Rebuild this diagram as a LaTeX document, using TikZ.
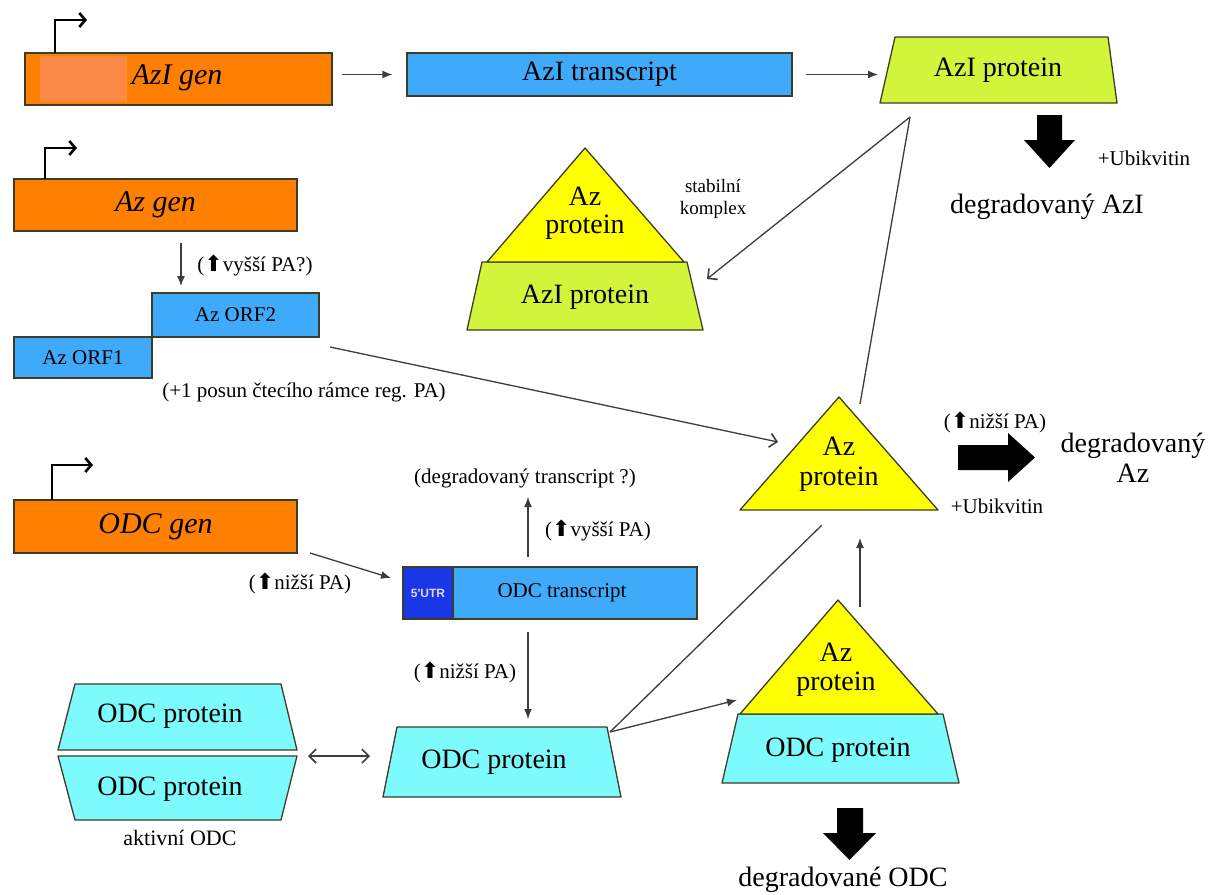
\documentclass[tikz,border=0pt]{standalone}
\usepackage{fontspec}
\setmainfont{Liberation Serif}
\newfontfamily\symf{DejaVu Sans}
\newfontfamily\sansf{Liberation Sans}
\usetikzlibrary{arrows.meta}
\definecolor{geneor}{RGB}{255,128,0}
\definecolor{patchor}{RGB}{250,138,70}
\definecolor{trblue}{RGB}{64,170,250}
\definecolor{utrblue}{RGB}{25,55,230}
\definecolor{azigreen}{RGB}{210,245,60}
\definecolor{azyellow}{RGB}{255,255,0}
\definecolor{odccyan}{RGB}{125,250,252}
\definecolor{edgec}{RGB}{60,60,40}
\definecolor{connc}{RGB}{60,60,60}
\newcommand{\upA}{{\symf\fontsize{22}{24}\selectfont ⬆}}
\begin{document}
\begin{tikzpicture}[x=1pt,y=-1pt,
  big/.style={font=\fontsize{28}{31}\selectfont, inner sep=0pt},
  small/.style={font=\fontsize{21}{24}\selectfont, inner sep=0pt},
  genebox/.style={draw=edgec, line width=1.3pt, fill=geneor, inner sep=0pt, font=\fontsize{30}{33}\selectfont\itshape},
  trbox/.style={draw=edgec, line width=1.3pt, fill=trblue, inner sep=0pt},
  shapeline/.style={draw=edgec, line width=1.3pt, line join=round},
  arr/.style={draw=connc, line width=1.3pt, -{Latex[length=10pt,width=8pt]}},
  oarr/.style={draw=connc, line width=1.3pt, -{Straight Barb[length=7pt,width=14pt,line width=1.6pt]}},
  darr/.style={draw=connc, line width=1.3pt, {Straight Barb[length=7pt,width=14pt,line width=1.6pt]}-{Straight Barb[length=7pt,width=14pt,line width=1.6pt]}},
  plainc/.style={draw=connc, line width=1.3pt},
  prom/.style={draw=black, line width=2.6pt, -{Straight Barb[length=6pt,width=14pt,line width=2.6pt]}},
  block/.style={fill=black, draw=none},
]
\useasboundingbox (0,0) rectangle (1223,894);

% ---------- AzI row ----------
\node[genebox, minimum width=307pt, minimum height=52pt] (azigen) at (178.5,79) {};
\fill[patchor] (40,56) rectangle (127,102);
\node[font=\fontsize{30}{33}\selectfont\itshape, inner sep=0pt] (azigentxt) at (177,78) {AzI gen};
\draw[prom] (55,53) -- (55,20) -- (87,20);
\node[trbox, minimum width=385pt, minimum height=43pt, big] (azitr) at (599.5,74.5) {AzI transcript};
\filldraw[shapeline, fill=azigreen] (895,37) -- (1108,37) -- (1117,103) -- (880,103) -- cycle;
\node[big] (aziprot) at (998,70) {AzI protein};
\draw[arr] ([xshift=9pt]azigen.east |- azitr.west) -- ([xshift=-14pt]azitr.west);
\draw[arr] ([xshift=13pt]azitr.east) -- (878,74.5);

\fill[block] (1037,115) -- (1062,115) -- (1062,140) -- (1075,140) -- (1049.5,168) -- (1024,140) -- (1037,140) -- cycle;
\node[small] (ubi1) at (1144,158) {+Ubikvitin};
\node[big] (degazi) at (1047,207) {degradovaný AzI};

% ---------- stable complex ----------
\filldraw[shapeline, fill=azigreen] (482,262) -- (687,262) -- (703,330) -- (467,330) -- cycle;
\filldraw[shapeline, fill=azyellow] (585,148) -- (684,262) -- (487,262) -- cycle;
\node[big] (c1az) at (585,196) {Az};
\node[big] (c1prot) at (585,227) {protein};
\node[big] (c1azi) at (585,297) {AzI protein};
\node[small, align=center, font=\fontsize{19}{22}\selectfont] (stab) at (713,199) {stabilní\\komplex};
\coordinate (aziout) at (910,117);
\coordinate (c1in) at (707,279);
\coordinate (aztop) at (860,404);
\draw[oarr] (aziout) -- (c1in);
\draw[plainc] (aziout) -- (aztop);

% ---------- Az row ----------
\node[genebox, minimum width=283pt, minimum height=52pt] (azgen) at (155.5,205) {Az gen};
\draw[prom] (45,179) -- (45,148) -- (77,148);
\draw[arr] (181,243) -- (181,286);
\node[small] (vyssi1) at (255,265) {(\upA vyšší PA?)};
\node[trbox, minimum width=167pt, minimum height=44pt, small] (orf2) at (235.5,315) {Az ORF2};
\node[trbox, minimum width=138pt, minimum height=41pt, small] (orf1) at (83,357.5) {Az ORF1};
\node[small] (posun) at (304,392) {(+1 posun čtecího rámce reg. PA)};

% ---------- main Az triangle ----------
\filldraw[shapeline, fill=azyellow] (839,397) -- (938,510) -- (740,510) -- cycle;
\node[big] (azaz) at (839,446) {Az};
\node[big] (azprot) at (839,479) {protein};
\coordinate (orfout) at (330,347);
\coordinate (azin) at (778,442);
\draw[oarr] (orfout) -- (azin);
\fill[block] (958,445) -- (1008,445) -- (1008,433) -- (1035,457.5) -- (1008,482) -- (1008,470) -- (958,470) -- cycle;
\node[small] (nizsi1) at (995,422) {(\upA nižší PA)};
\node[small] (ubi2) at (997,506) {+Ubikvitin};
\node[big, align=center, font=\fontsize{28}{30}\selectfont] (degaz) at (1133,458) {degradovaný\\Az};

% ---------- ODC row ----------
\node[genebox, minimum width=283pt, minimum height=53pt] (odcgen) at (155.5,526.5) {ODC gen};
\draw[prom] (52,500) -- (52,465) -- (93,465);
\node[trbox, minimum width=294pt, minimum height=52pt] (odctr) at (550,593) {};
\filldraw[draw=edgec, line width=1.3pt, fill=utrblue] (403,567) rectangle (453,619);
\node[font=\sansf\bfseries\fontsize{12}{14}\selectfont, text=white!85!blue, inner sep=0pt] (utr) at (428,593) {5'UTR};
\node[small] (odctrtxt) at (562,593) {ODC transcript};
\draw[arr] (310,553) -- (391,578);
\node[small] (nizsi2) at (300,583) {(\upA nižší PA)};
\draw[arr] (528,557) -- (528,497);
\node[small] (degtr) at (525,478) {(degradovaný transcript ?)};
\node[small] (vyssi2) at (598,530) {(\upA vyšší PA)};
\draw[arr] (528,632) -- (528,719);
\node[small] (nizsi3) at (465,672) {(\upA nižší PA)};

% ---------- ODC proteins ----------
\filldraw[shapeline, fill=odccyan] (75,684) -- (281,684) -- (297,750) -- (58,750) -- cycle;
\filldraw[shapeline, fill=odccyan] (58,756) -- (297,756) -- (281,820) -- (75,820) -- cycle;
\node[big] (dim1) at (170,716) {ODC protein};
\node[big] (dim2) at (170,789) {ODC protein};
\node[font=\fontsize{22}{25}\selectfont, inner sep=0pt] (aktiv) at (180,838) {aktivní ODC};
\draw[darr] (308,756) -- (370,756);

\filldraw[shapeline, fill=odccyan] (397,727) -- (607,727) -- (621,797) -- (383,797) -- cycle;
\node[big] (mono) at (494,762) {ODC protein};
\coordinate (monoout) at (610,732);
\coordinate (c2in) at (737,700);
\coordinate (azbl) at (822,525);
\draw[arr] (monoout) -- (c2in);
\draw[plainc] (monoout) -- (azbl);

% ---------- complex 2 ----------
\filldraw[shapeline, fill=odccyan] (738,714) -- (943,714) -- (959,783) -- (722,783) -- cycle;
\filldraw[shapeline, fill=azyellow] (838,600) -- (938,714) -- (740,714) -- cycle;
\node[big] (c2az) at (836,652) {Az};
\node[big] (c2prot) at (836,684) {protein};
\node[big] (c2odc) at (838,750) {ODC protein};
\draw[arr] (860,607) -- (860,538);
\fill[block] (837,808) -- (863,808) -- (863,833) -- (876,833) -- (849.5,860) -- (823,833) -- (837,833) -- cycle;
\node[big] (degodc) at (843,880) {degradované ODC};
\end{tikzpicture}
\end{document}
